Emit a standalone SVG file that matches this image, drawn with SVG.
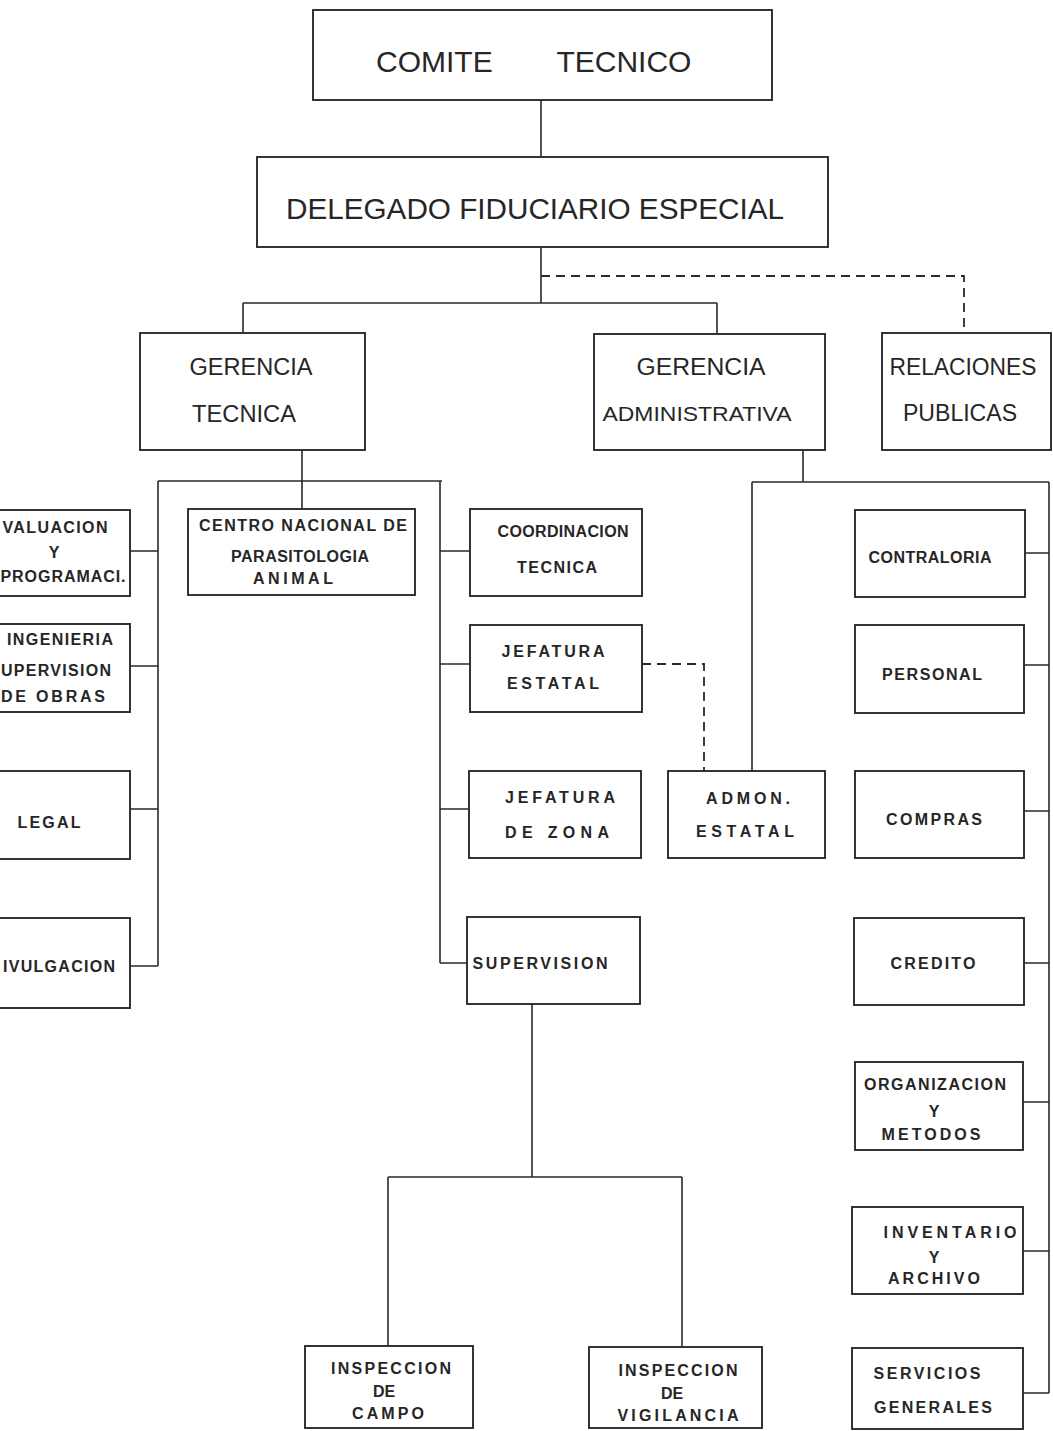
<svg xmlns="http://www.w3.org/2000/svg" width="1053" height="1431" viewBox="0 0 1053 1431">
<style>
.bx{fill:#fff;stroke:#2a2a2a;stroke-width:1.9}
.ln{fill:none;stroke:#2a2a2a;stroke-width:1.6}
.ds{fill:none;stroke:#2a2a2a;stroke-width:1.8;stroke-dasharray:9 6}
text{font-family:"Liberation Sans",Arial,sans-serif;fill:#262626}
.big{font-size:23px;text-anchor:middle}
.sm{font-size:16px;font-weight:bold;text-anchor:middle}
</style>
<rect x="0" y="0" width="1053" height="1431" fill="#fff"/>
<g id="connectors">
<path class="ln" d="M541 100V157M541 247V303M243 303H717M243 303V333M717 303V334"/>
<path class="ds" d="M541 276H964V333"/>
<path class="ln" d="M302 450V509M158 481H442M158 481V966M130 551H158M130 666H158M130 809H158M130 966H158"/>
<path class="ln" d="M440 481V963M440 551H470M440 664H470M440 809H469M440 963H467"/>
<path class="ds" d="M642 664H704V771"/>
<path class="ln" d="M803 450V482M752 482H1049M752 482V771M1049 482V1393"/>
<path class="ln" d="M1025 553H1049M1024 665H1049M1024 811H1049M1024 963H1049M1023 1102H1049M1023 1251H1049M1023 1393H1049"/>
<path class="ln" d="M532 1004V1177M388 1177H682M388 1177V1346M682 1177V1347"/>
</g>
<g id="comite"><rect class="bx" x="313" y="10" width="459" height="90"/><text x="376" y="72" style="font-size:30px" word-spacing="56">COMITE TECNICO</text></g>
<g id="delegado"><rect class="bx" x="257" y="157" width="571" height="90"/><text x="535" y="219" style="font-size:29px;text-anchor:middle" textLength="498" lengthAdjust="spacingAndGlyphs">DELEGADO FIDUCIARIO ESPECIAL</text></g>
<g id="gerencia-tecnica"><rect class="bx" x="140" y="333" width="225" height="117"/><text class="big" x="251" y="375" textLength="123" lengthAdjust="spacingAndGlyphs">GERENCIA</text><text class="big" x="244" y="422" textLength="104" lengthAdjust="spacingAndGlyphs">TECNICA</text></g>
<g id="gerencia-administrativa"><rect class="bx" x="594" y="334" width="231" height="116"/><text class="big" x="701" y="375" textLength="129" lengthAdjust="spacingAndGlyphs">GERENCIA</text><text class="big" x="697" y="421" style="font-size:21px" textLength="189" lengthAdjust="spacingAndGlyphs">ADMINISTRATIVA</text></g>
<g id="relaciones-publicas"><rect class="bx" x="882" y="333" width="169" height="117"/><text class="big" x="963" y="375" textLength="147" lengthAdjust="spacingAndGlyphs">RELACIONES</text><text class="big" x="960" y="421" textLength="114" lengthAdjust="spacingAndGlyphs">PUBLICAS</text></g>
<g id="evaluacion"><rect class="bx" x="-5" y="510" width="135" height="86"/><text class="sm" x="55" y="533" textLength="105" lengthAdjust="spacing">VALUACION</text><text class="sm" x="54" y="558">Y</text><text class="sm" x="63" y="582" textLength="125" lengthAdjust="spacing">PROGRAMACI.</text></g>
<g id="ingenieria"><rect class="bx" x="-5" y="624" width="135" height="88"/><text class="sm" x="60" y="645" textLength="106" lengthAdjust="spacing">INGENIERIA</text><text class="sm" x="56" y="676" textLength="110" lengthAdjust="spacing">UPERVISION</text><text class="sm" x="53" y="702" textLength="104" lengthAdjust="spacing">DE OBRAS</text></g>
<g id="legal"><rect class="bx" x="-5" y="771" width="135" height="88"/><text class="sm" x="49" y="828" textLength="63" lengthAdjust="spacing">LEGAL</text></g>
<g id="divulgacion"><rect class="bx" x="-5" y="918" width="135" height="90"/><text class="sm" x="59" y="972" textLength="112" lengthAdjust="spacing">IVULGACION</text></g>
<g id="centro-nacional"><rect class="bx" x="188" y="509" width="227" height="86"/><text class="sm" x="303" y="531" textLength="208" lengthAdjust="spacing">CENTRO NACIONAL DE</text><text class="sm" x="300" y="562" textLength="138" lengthAdjust="spacing">PARASITOLOGIA</text><text class="sm" x="293" y="584" textLength="80" lengthAdjust="spacing">ANIMAL</text></g>
<g id="coordinacion"><rect class="bx" x="470" y="509" width="172" height="87"/><text class="sm" x="563" y="537" textLength="131" lengthAdjust="spacing">COORDINACION</text><text class="sm" x="557" y="573" textLength="80" lengthAdjust="spacing">TECNICA</text></g>
<g id="jefatura-estatal"><rect class="bx" x="470" y="625" width="172" height="87"/><text class="sm" x="553" y="657" textLength="103" lengthAdjust="spacing">JEFATURA</text><text class="sm" x="553" y="689" textLength="92" lengthAdjust="spacing">ESTATAL</text></g>
<g id="jefatura-zona"><rect class="bx" x="469" y="771" width="172" height="87"/><text class="sm" x="560" y="803" textLength="110" lengthAdjust="spacing">JEFATURA</text><text class="sm" x="557" y="838" textLength="104" lengthAdjust="spacing">DE ZONA</text></g>
<g id="supervision"><rect class="bx" x="467" y="917" width="173" height="87"/><text class="sm" x="540" y="969" textLength="135" lengthAdjust="spacing">SUPERVISION</text></g>
<g id="admon-estatal"><rect class="bx" x="668" y="771" width="157" height="87"/><text class="sm" x="748" y="804" textLength="84" lengthAdjust="spacing">ADMON.</text><text class="sm" x="745" y="837" textLength="98" lengthAdjust="spacing">ESTATAL</text></g>
<g id="contraloria"><rect class="bx" x="855" y="510" width="170" height="87"/><text class="sm" x="930" y="563" textLength="123" lengthAdjust="spacing">CONTRALORIA</text></g>
<g id="personal"><rect class="bx" x="855" y="625" width="169" height="88"/><text class="sm" x="932" y="680" textLength="100" lengthAdjust="spacing">PERSONAL</text></g>
<g id="compras"><rect class="bx" x="855" y="771" width="169" height="87"/><text class="sm" x="934" y="825" textLength="96" lengthAdjust="spacing">COMPRAS</text></g>
<g id="credito"><rect class="bx" x="854" y="918" width="170" height="87"/><text class="sm" x="933" y="969" textLength="85" lengthAdjust="spacing">CREDITO</text></g>
<g id="organizacion"><rect class="bx" x="855" y="1062" width="168" height="88"/><text class="sm" x="935" y="1090" textLength="142" lengthAdjust="spacing">ORGANIZACION</text><text class="sm" x="934" y="1117">Y</text><text class="sm" x="931" y="1140" textLength="99" lengthAdjust="spacing">METODOS</text></g>
<g id="inventario"><rect class="bx" x="852" y="1207" width="171" height="87"/><text class="sm" x="950" y="1238" textLength="133" lengthAdjust="spacing">INVENTARIO</text><text class="sm" x="934" y="1263">Y</text><text class="sm" x="934" y="1284" textLength="92" lengthAdjust="spacing">ARCHIVO</text></g>
<g id="servicios"><rect class="bx" x="852" y="1348" width="171" height="81"/><text class="sm" x="927" y="1379" textLength="107" lengthAdjust="spacing">SERVICIOS</text><text class="sm" x="933" y="1413" textLength="118" lengthAdjust="spacing">GENERALES</text></g>
<g id="inspeccion-campo"><rect class="bx" x="305" y="1346" width="168" height="82"/><text class="sm" x="391" y="1374" textLength="120" lengthAdjust="spacing">INSPECCION</text><text class="sm" x="384" y="1397">DE</text><text class="sm" x="388" y="1419" textLength="72" lengthAdjust="spacing">CAMPO</text></g>
<g id="inspeccion-vigilancia"><rect class="bx" x="589" y="1347" width="173" height="81"/><text class="sm" x="678" y="1376" textLength="119" lengthAdjust="spacing">INSPECCION</text><text class="sm" x="672" y="1399">DE</text><text class="sm" x="678" y="1421" textLength="121" lengthAdjust="spacing">VIGILANCIA</text></g>
</svg>
